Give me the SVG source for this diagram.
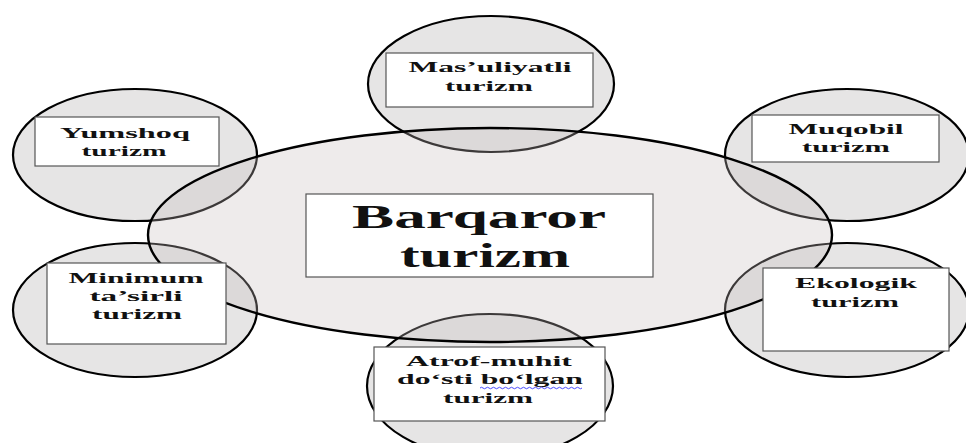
<svg xmlns="http://www.w3.org/2000/svg" width="966" height="443" viewBox="0 0 966 443">
<style>
.sat{fill:#e6e5e5;stroke:#000;stroke-width:2.2}
.core{fill:#c8bcbc;fill-opacity:0.3;stroke:#000;stroke-width:2.4}
.box{fill:#fff;stroke:#555;stroke-width:1.2}
text{font-family:"Liberation Serif","Times New Roman",serif;font-weight:bold;fill:#111;text-anchor:middle}
.s{font-size:15.5px}
.b{font-size:33px}
</style>
<rect width="966" height="443" fill="#fff"/>
<g id="satellite-shapes">
<ellipse class="sat" cx="491" cy="84" rx="123" ry="68"/>
<ellipse class="sat" cx="135" cy="155" rx="122" ry="66"/>
<ellipse class="sat" cx="847" cy="155" rx="122" ry="66"/>
<ellipse class="sat" cx="135" cy="310" rx="122" ry="67"/>
<ellipse class="sat" cx="847" cy="310" rx="122" ry="67"/>
<ellipse class="sat" cx="490" cy="386" rx="123" ry="72"/>
</g>
<g id="barqaror">
<ellipse class="core" cx="490" cy="235" rx="342" ry="107"/>
<rect class="box" x="306" y="194" width="347" height="83"/>
<text class="b" x="479" y="228" textLength="254" lengthAdjust="spacingAndGlyphs">Barqaror</text>
<text class="b" x="485" y="267" textLength="170" lengthAdjust="spacingAndGlyphs">turizm</text>
</g>
<g id="masuliyatli">
<rect class="box" x="386" y="53" width="207" height="54"/>
<text class="s" x="490" y="72" textLength="163" lengthAdjust="spacingAndGlyphs">Mas’uliyatli</text>
<text class="s" x="489" y="91" textLength="88" lengthAdjust="spacingAndGlyphs">turizm</text>
</g>
<g id="yumshoq">
<rect class="box" x="35" y="117" width="184" height="49"/>
<text class="s" x="125" y="138" textLength="130" lengthAdjust="spacingAndGlyphs">Yumshoq</text>
<text class="s" x="124" y="156" textLength="85" lengthAdjust="spacingAndGlyphs">turizm</text>
</g>
<g id="muqobil">
<rect class="box" x="752" y="115" width="187" height="47"/>
<text class="s" x="846" y="134" textLength="115" lengthAdjust="spacingAndGlyphs">Muqobil</text>
<text class="s" x="846" y="152" textLength="88" lengthAdjust="spacingAndGlyphs">turizm</text>
</g>
<g id="minimum">
<rect class="box" x="47" y="263" width="179" height="81"/>
<text class="s" x="136" y="283" textLength="135" lengthAdjust="spacingAndGlyphs">Minimum</text>
<text class="s" x="136" y="301" textLength="93" lengthAdjust="spacingAndGlyphs">ta’sirli</text>
<text class="s" x="137" y="319" textLength="90" lengthAdjust="spacingAndGlyphs">turizm</text>
</g>
<g id="ekologik">
<rect class="box" x="763" y="268" width="186" height="83"/>
<text class="s" x="856" y="288" textLength="122" lengthAdjust="spacingAndGlyphs">Ekologik</text>
<text class="s" x="855" y="307" textLength="88" lengthAdjust="spacingAndGlyphs">turizm</text>
</g>
<g id="atrof-muhit">
<rect class="box" x="374" y="347" width="231" height="74"/>
<text class="s" x="489" y="366" textLength="166" lengthAdjust="spacingAndGlyphs">Atrof-muhit</text>
<text class="s" x="490" y="384" textLength="186" lengthAdjust="spacingAndGlyphs">do‘sti bo‘lgan</text>
<text class="s" x="488" y="403" textLength="90" lengthAdjust="spacingAndGlyphs">turizm</text>
<path d="M480 388 q1.5 -1.5 3 0 t3 0 t3 0 t3 0 t3 0 t3 0 t3 0 t3 0 t3 0 t3 0 t3 0 t3 0 t3 0 t3 0 t3 0 t3 0 t3 0 t3 0 t3 0 t3 0 t3 0 t3 0 t3 0 t3 0 t3 0 t3 0 t3 0 t3 0 t3 0 t3 0 t3 0 t3 0 t3 0 t3 0" fill="none" stroke="#4a4aff" stroke-width="1"/>
</g>
<g id="connectors"></g>
</svg>
